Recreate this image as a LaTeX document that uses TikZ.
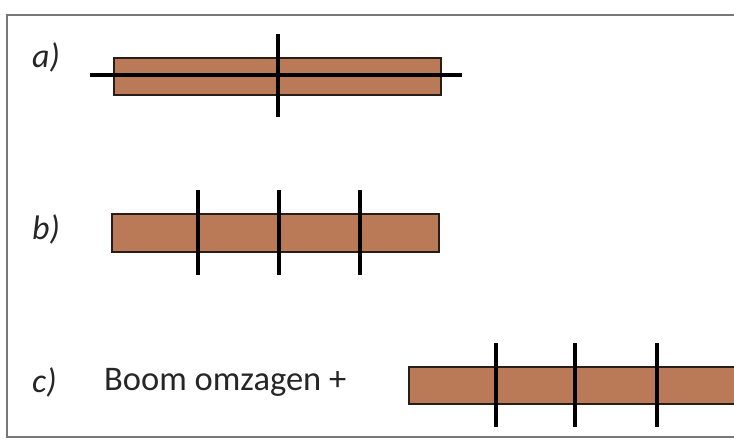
\documentclass[tikz,border=0pt]{standalone}
\usepackage{fontspec}
\setmainfont{Carlito}
\definecolor{wood}{RGB}{186,122,88}
\definecolor{woodedge}{RGB}{40,30,25}
\definecolor{framegray}{RGB}{120,120,120}
\tikzset{
  bar/.style={draw=woodedge, line width=1.5pt, fill=wood, rectangle, inner sep=0pt, anchor=north west},
  cut/.style={line width=4.5pt, black},
  lbl/.style={font=\fontsize{34}{38}\selectfont\itshape, text=black!85, anchor=west, inner sep=0pt},
  txt/.style={font=\fontsize{34.5}{38}\selectfont, text=black!85, anchor=west, inner sep=0pt}
}
\begin{document}
\begin{tikzpicture}[x=1pt,y=-1pt]
\useasboundingbox (0,0) rectangle (734,440);
% frame
\draw[framegray, line width=2pt] (736,15) -- (7,15) -- (7,437) -- (736,437);
% a
\node[lbl] (la) at (32,57) {a)};
\node[bar, minimum width=327pt, minimum height=37pt] (ba) at (113,57) {};
\coordinate (ha1) at (90,75);
\coordinate (ha2) at (462,75);
\coordinate (va1) at (278,34);
\coordinate (va2) at (278,117);
\draw[cut] (ha1) -- (ha2);
\draw[cut] (va1) -- (va2);
% b
\node[lbl] (lb) at (32,229) {b)};
\node[bar, minimum width=327pt, minimum height=38pt] (bb) at (111,213) {};
\foreach \x [count=\i] in {198,279,360}{
  \coordinate (vb\i t) at (\x,190);
  \coordinate (vb\i b) at (\x,275);
  \draw[cut] (vb\i t) -- (vb\i b);
}
% c
\node[lbl] (lc) at (32,382) {c)};
\node[txt] (tc) at (104,382) {Boom omzagen +};
\node[bar, minimum width=340pt, minimum height=37pt] (bc) at (408,366) {};
\foreach \x [count=\i] in {496,575,657}{
  \coordinate (vc\i t) at (\x,343);
  \coordinate (vc\i b) at (\x,427);
  \draw[cut] (vc\i t) -- (vc\i b);
}
\end{tikzpicture}
\end{document}
